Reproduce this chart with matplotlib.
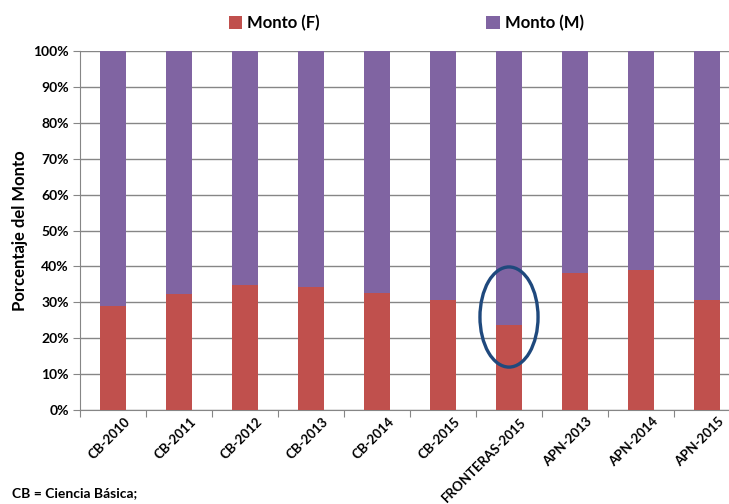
import matplotlib.pyplot as plt
import matplotlib.transforms as mtransforms
from matplotlib.patches import Ellipse
from matplotlib.ticker import PercentFormatter, FixedLocator
import numpy as np

plt.rcParams['font.family'] = ['Lato', 'DejaVu Sans']
plt.rcParams['font.weight'] = 'bold'

# Share of funding by sex per call
calls = ['CB-2010', 'CB-2011', 'CB-2012', 'CB-2013', 'CB-2014', 'CB-2015',
         'FRONTERAS-2015', 'APN-2013', 'APN-2014', 'APN-2015']
monto_f = np.array([28.9, 32.3, 34.9, 34.3, 32.6, 30.6, 23.7, 38.1, 39.0, 30.6])
monto_m = 100 - monto_f

red = '#C0504D'
purple = '#8064A2'
grid_gray = '#868686'

fig = plt.figure(figsize=(7.29, 5.04), dpi=100)
ax = fig.add_axes([80/729, 94/504, 660/729, 359/504])

x = np.arange(len(calls))
ax.bar(x, monto_f, 0.4, color=red, label='Monto (F)', zorder=3)
ax.bar(x, monto_m, 0.4, bottom=monto_f, color=purple, label='Monto (M)', zorder=3)

ax.set_xlim(-0.5, len(calls) - 0.5)
ax.set_ylim(0, 100)
ax.set_yticks(np.arange(0, 101, 10))
ax.yaxis.set_major_formatter(PercentFormatter(decimals=0))
ax.yaxis.grid(True, color=grid_gray, linewidth=1.0, zorder=0)
ax.tick_params(axis='y', labelsize=10, length=5, color=grid_gray, pad=3)

# category boundaries as ticks, labels at centers
ax.xaxis.set_major_locator(FixedLocator(np.arange(-0.5, len(calls), 1.0)))
ax.xaxis.set_major_formatter(plt.NullFormatter())
ax.xaxis.set_minor_locator(FixedLocator(x))
ax.set_xticklabels(calls, minor=True)
ax.tick_params(axis='x', which='major', length=5, color=grid_gray)
ax.tick_params(axis='x', which='minor', length=0, labelsize=9.5, pad=4)
offset = mtransforms.ScaledTranslation(8/72, 0, fig.dpi_scale_trans)
for lbl in ax.get_xticklabels(minor=True):
    lbl.set_rotation(45)
    lbl.set_ha('right')
    lbl.set_rotation_mode('anchor')
    lbl.set_transform(lbl.get_transform() + offset)

for side in ['top', 'right']:
    ax.spines[side].set_visible(False)
for side in ['left', 'bottom']:
    ax.spines[side].set_color(grid_gray)

ax.set_ylabel('Porcentaje del Monto', fontsize=12, fontweight='bold')

# highlight FRONTERAS-2015
ax.add_patch(Ellipse((6, 25.9), 0.88, 27.9, fill=False,
                     edgecolor='#1F497D', linewidth=2.4, zorder=4))

fig.legend(loc='upper center', bbox_to_anchor=(0.557, 1.0), ncol=2,
           frameon=False, fontsize=12, handlelength=0.8, handleheight=0.8,
           handletextpad=0.3, columnspacing=10)

fig.text(12/729, 1 - 493/504, 'CB = Ciencia Básica;', fontsize=10,
         fontweight='bold', va='center')

plt.savefig('out.png', dpi=100)
